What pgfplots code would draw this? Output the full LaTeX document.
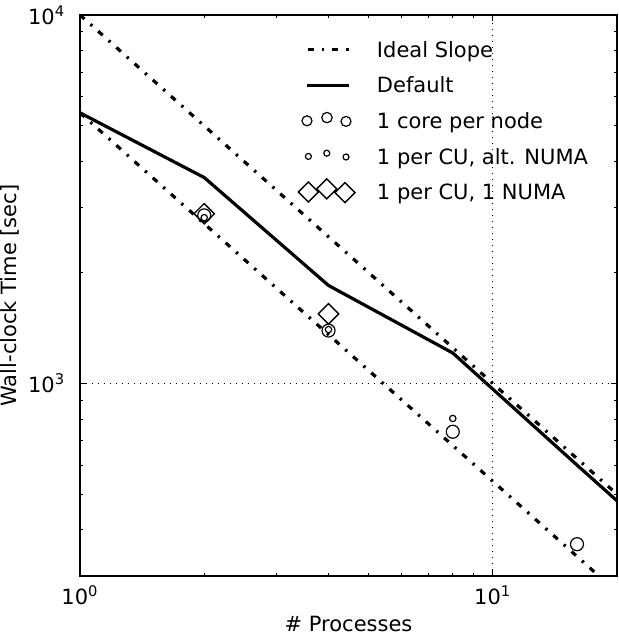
\documentclass[border=0pt]{standalone}
\usepackage{pgfplots}
\pgfplotsset{compat=1.18}
\usepackage{fontspec}
\setmainfont{DejaVu Sans}
\def\ly{1.3pt}
\begin{document}
\fontsize{10.5}{12.6}\selectfont
\begin{tikzpicture}
\begin{loglogaxis}[
  scale only axis,
  width=268.5pt, height=280.5pt,
  xmin=1, xmax=20, ymin=300, ymax=10000,
  axis line style={line width=0.65pt},
  xtick={1,10}, xticklabels={10\textsuperscript{0},10\textsuperscript{1}},
  ytick={1000,10000}, yticklabels={10\textsuperscript{3},10\textsuperscript{4}},
  minor xtick={2,3,4,5,6,7,8,9,20},
  minor ytick={300,400,500,600,700,800,900,2000,3000,4000,5000,6000,7000,8000,9000},
  tick align=inside, tick pos=both,
  major tick length=3pt, minor tick length=1.6pt,
  tick style={black, line width=0.5pt},
  grid=major,
  major grid style={black, line width=0.6pt, dash pattern=on 0.6pt off 2.4pt},
  xticklabel style={yshift=-1.2pt},
  yticklabel style={xshift=-3.7pt},
  xlabel={\# Processes},
  ylabel={Wall-clock Time [sec]},
  xlabel style={at={(axis description cs:0.5,-0.0998)}, anchor=base},
  ylabel style={at={(axis description cs:-0.118,0.5)}, anchor=base},
  legend cell align=left,
  legend style={draw=none, fill=none, inner sep=0pt, outer sep=0pt,
    at={(axis description cs:0.4022,0.9561)}, anchor=north west,
    row sep=6.5pt, column sep=10pt,
    nodes={inner sep=0pt, text height=7.5pt, text depth=2.5pt}},
]
\addplot[black, line width=1.6pt, dash pattern=on 3pt off 4pt on 1.2pt off 4pt,
  legend image code/.code={
    \path[draw=none, fill=none] (-5.5pt,\ly-5pt) rectangle (25pt,\ly+5pt);
    \draw[overlay, black, line width=1.6pt, dash pattern=on 3pt off 4pt on 1.2pt off 4pt] (0.5pt,\ly) -- (20.8pt,\ly);}]
  coordinates {(1,10000) (20,500)};
\addlegendentry{Ideal Slope}
\addplot[black, line width=1.6pt, dash pattern=on 3pt off 4pt on 1.2pt off 4pt, forget plot]
  coordinates {(1,5425) (20,271.25)};
\addplot[black, line width=1.6pt,
  legend image code/.code={
    \path[draw=none, fill=none] (-5.5pt,\ly-5pt) rectangle (25pt,\ly+5pt);
    \draw[overlay, black, line width=1.6pt] (0pt,\ly) -- (20.8pt,\ly);}]
  coordinates {(1,5425) (2,3620) (4,1844) (8,1209) (16,600) (32,300)};
\addlegendentry{Default}
\addplot[black, only marks, mark=o, mark size=3.25pt, mark options={line width=0.6pt},
  legend image code/.code={
    \path[draw=none, fill=none] (-5.5pt,\ly-5pt) rectangle (25pt,\ly+5pt);
    \draw[overlay, black, line width=0.6pt] (0pt,\ly) circle[radius=2.5pt]
      (10pt,\ly+1.6pt) circle[radius=2.6pt] (19.5pt,\ly-0.3pt) circle[radius=2.5pt];}]
  coordinates {(2,2858) (4,1391) (8,739) (16,366)};
\addlegendentry{1 core per node}
\addplot[black, only marks, mark=o, mark size=1.6pt, mark options={line width=0.6pt},
  legend image code/.code={
    \path[draw=none, fill=none] (-5.5pt,\ly-5pt) rectangle (25pt,\ly+5pt);
    \draw[overlay, black, line width=0.6pt] (0.7pt,\ly) circle[radius=1.5pt]
      (9.9pt,\ly+1.6pt) circle[radius=1.5pt] (19.5pt,\ly-0.3pt) circle[radius=1.5pt];}]
  coordinates {(2,2817) (4,1400) (8,803)};
\addlegendentry{1 per CU, alt. NUMA}
\addplot[black, only marks, mark=square, mark size=3.6pt, mark options={rotate=45, line width=0.7pt},
  legend image code/.code={
    \path[draw=none, fill=none] (-5.5pt,\ly-5pt) rectangle (25pt,\ly+5pt);
    \draw[overlay, black, line width=0.7pt]
      (0.7pt,\ly+5pt) -- ++(5pt,-5pt) -- ++(-5pt,-5pt) -- ++(-5pt,5pt) -- cycle
      (9.9pt,\ly+6.6pt) -- ++(5pt,-5pt) -- ++(-5pt,-5pt) -- ++(-5pt,5pt) -- cycle
      (19pt,\ly+4.7pt) -- ++(5pt,-5pt) -- ++(-5pt,-5pt) -- ++(-5pt,5pt) -- cycle;}]
  coordinates {(2,2888) (4,1544)};
\addlegendentry{1 per CU, 1 NUMA}
\end{loglogaxis}
\pgfresetboundingbox
\path (current axis.south west) ++(-40pt,-29.5pt) rectangle ++(309pt,317.5pt);
\end{tikzpicture}
\end{document}
